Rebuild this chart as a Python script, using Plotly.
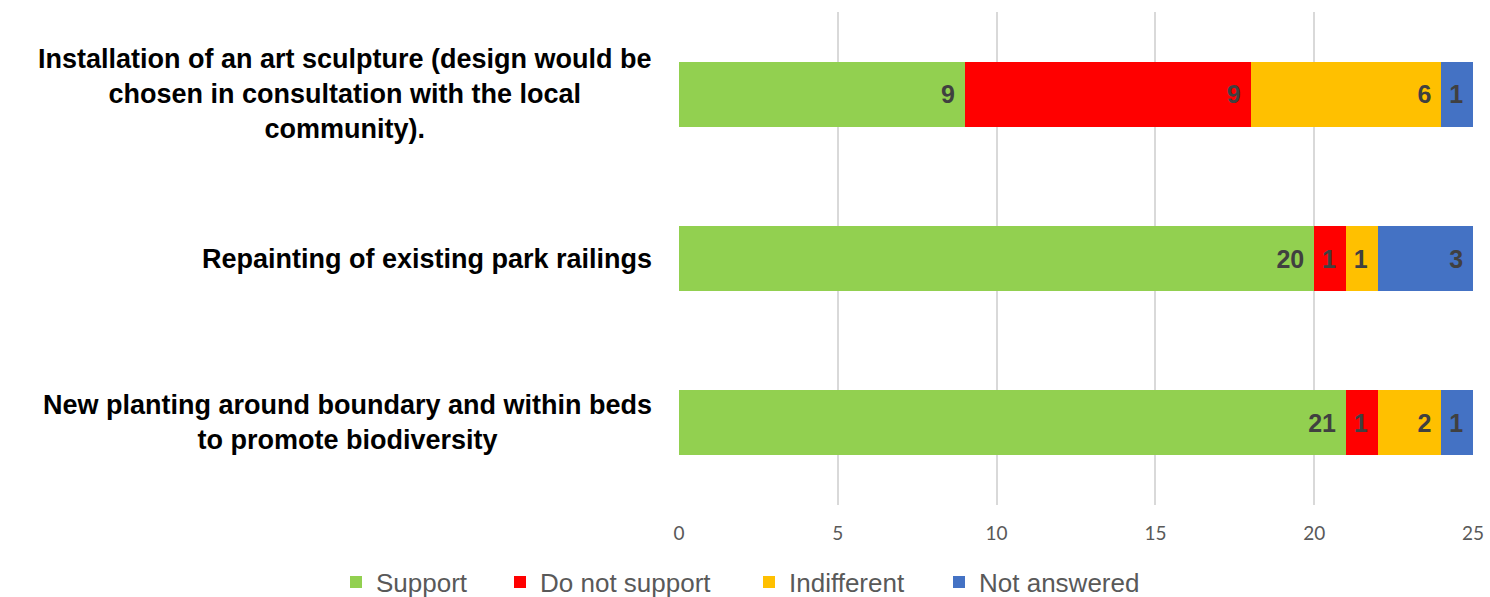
import plotly.graph_objects as go

categories = [
    "Installation of an art sculpture (design would be<br>chosen in consultation with the local<br>community).",
    "Repainting of existing park railings",
    "New planting around boundary and within beds<br>to promote biodiversity",
]
series_names = ["Support", "Do not support", "Indifferent", "Not answered"]
support = [9, 20, 21]
do_not_support = [9, 1, 1]
indifferent = [6, 1, 2]
not_answered = [1, 3, 1]
colors = ["#92D050", "#FF0000", "#FFC000", "#4472C4"]
x_ticks = [0, 5, 10, 15, 20, 25]

cat_ids = ["c0", "c1", "c2"]
W, H = 1490, 597
legend_ids = ["legend", "legend2", "legend3", "legend4"]
legend_marker_left = [350, 514, 763, 953]

fig = go.Figure()
for name, vals, col, lid in zip(series_names, [support, do_not_support, indifferent, not_answered], colors, legend_ids):
    fig.add_trace(go.Bar(
        y=cat_ids, x=vals, name=name, orientation="h", legend=lid,
        marker=dict(color=col, line=dict(width=0)),
        text=[str(v) + "\u00a0" for v in vals], textposition="inside", insidetextanchor="end",
        textfont=dict(family="Liberation Sans, Arial, sans-serif", size=25, color="#404040", weight="bold"),
        cliponaxis=False,
    ))

for cid, label in zip(cat_ids, categories):
    fig.add_annotation(
        x=-0.031, xref="paper", y=cid, yref="y", text="<b>" + label + "</b>",
        xanchor="right", yanchor="middle", align="center", showarrow=False,
        font=dict(family="Liberation Sans, Arial, sans-serif", size=27, color="#000000"),
    )

legend_cfg = {}
for lid, m in zip(legend_ids, legend_marker_left):
    legend_cfg[lid] = dict(
        orientation="h", xref="container", yref="container",
        x=(m - 14) / W, y=1 - 582 / H, xanchor="left", yanchor="middle",
        bgcolor="rgba(0,0,0,0)",
        font=dict(family="Liberation Sans, Arial, sans-serif", size=26, color="#595959"),
        itemwidth=30,
    )

fig.update_layout(
    width=W, height=H, autosize=False,
    margin=dict(l=679, r=17, t=12, b=92),
    barmode="stack", bargap=0.605,
    plot_bgcolor="white", paper_bgcolor="white",
    uniformtext=dict(minsize=25, mode="show"),
    xaxis=dict(range=[0, 25], tickvals=x_ticks, showgrid=True, gridcolor="#D9D9D9", gridwidth=1.5,
               zeroline=False, showline=False, ticks="", ticklabelstandoff=15, automargin=False,
               tickfont=dict(family="Lato, Carlito, sans-serif", size=19, color="#595959")),
    yaxis=dict(categoryorder="array", categoryarray=cat_ids, autorange="reversed",
               showticklabels=False, showgrid=False, zeroline=False, showline=False, automargin=False),
    showlegend=True,
    **legend_cfg,
)

fig.write_html("out.html",
               config={"responsive": False, "displayModeBar": False},
               post_script="document.body.style.margin='0';document.body.style.overflow='hidden';")
